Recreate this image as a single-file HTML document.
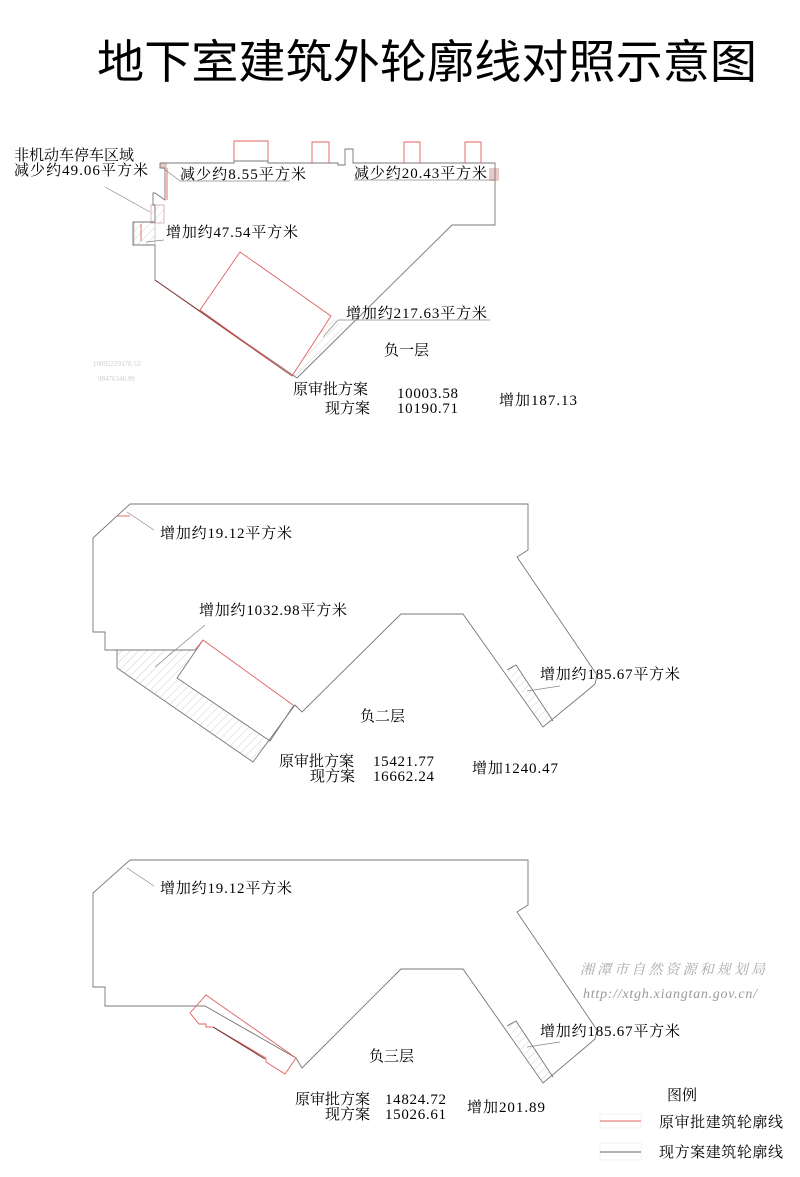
<!DOCTYPE html>
<html><head><meta charset="utf-8"><style>
html,body{margin:0;padding:0;background:#fff;}
svg{display:block;}
text{font-family:"Liberation Serif","Noto Serif CJK SC",serif;font-size:15px;fill:#000;}
.t{font-family:"Liberation Sans","Noto Sans CJK SC",sans-serif;font-size:46px;}
.g{fill:none;stroke:#777;stroke-width:0.9;}
.r{fill:none;stroke:#e06060;stroke-width:0.9;}
.l{fill:none;stroke:#888;stroke-width:0.7;}
</style></head><body>
<svg width="800" height="1177" viewBox="0 0 800 1177" xmlns="http://www.w3.org/2000/svg">
<defs>
<pattern id="h" width="6" height="6" patternUnits="userSpaceOnUse" patternTransform="rotate(45)">
<line x1="0" y1="0" x2="0" y2="6" stroke="#bbb" stroke-width="0.7"/></pattern>
</defs>
<text class="t" x="97" y="78" textLength="660" lengthAdjust="spacingAndGlyphs">地下室建筑外轮廓线对照示意图</text>

<!-- B1 -->
<polygon points="292,376 331,317 346,330 297,378" fill="url(#h)"/>
<rect x="151" y="205" width="13" height="18" fill="url(#h)" stroke="#c88" stroke-width="0.6"/>
<rect x="134" y="222" width="21" height="23" fill="url(#h)" stroke="#aaa" stroke-width="0.6"/>
<rect x="160" y="163" width="7" height="5" fill="#e9c8c8"/>
<rect x="489" y="168" width="10" height="13" fill="#e9c8c8"/>
<polyline class="g" points="160,163 234,163 234,161 268,161 268,163 312,163 329,163 338,163 338,165 345,165 345,149 353,149 353,163 404,163 420,163 465,163 481,163 495,163 495,225 452,225 297,378"/>
<polyline class="r" points="234,161 234,141 268,141 268,161"/>
<polyline class="r" points="312,163 312,142 329,142 329,163"/>
<polyline class="r" points="404,163 404,142 420,142 420,163"/>
<polyline class="r" points="465,163 465,142 481,142 481,163"/>
<polyline class="g" points="297,378 155,280 155,245 133,245 133,222 155,222 155,205 153,205 153,193 155,193 165,200 165,168 160,168 160,163"/>
<line x1="155" y1="280" x2="292" y2="376" stroke="#8a3a3a" stroke-width="1"/>
<polygon class="r" points="240,252 331,316 292,376 200,310"/>
<line class="r" x1="167" y1="168" x2="167" y2="200"/>
<line class="r" x1="141" y1="224" x2="141" y2="241"/>
<line class="l" x1="105" y1="187" x2="150" y2="212"/>
<line class="l" x1="163" y1="168" x2="180" y2="181"/>
<line class="l" x1="180" y1="181" x2="290" y2="181"/>
<line class="l" x1="354" y1="180" x2="495" y2="180"/>
<line class="l" x1="146" y1="242" x2="164" y2="240"/>
<line class="l" x1="338" y1="320" x2="490" y2="320"/>
<line class="l" x1="323" y1="337" x2="338" y2="320"/>
<text x="14" y="160" textLength="120">非机动车停车区域</text>
<text x="14" y="175" textLength="134">减少约49.06平方米</text>
<text x="180" y="179" textLength="126">减少约8.55平方米</text>
<text x="354" y="178" textLength="133">减少约20.43平方米</text>
<text x="166" y="237" textLength="132">增加约47.54平方米</text>
<text x="346" y="318" textLength="141">增加约217.63平方米</text>
<text x="384" y="355">负一层</text>
<text x="293" y="394">原审批方案</text>
<text x="397" y="398" textLength="61">10003.58</text>
<text x="325" y="413">现方案</text>
<text x="397" y="413" textLength="61">10190.71</text>
<text x="499" y="405" textLength="78">增加187.13</text>
<text x="93" y="366" style="font-size:7px;fill:#ccc">10092229378.53</text>
<text x="98" y="381" style="font-size:7px;fill:#ccc">98476346.99</text>

<!-- B2 -->
<polygon points="117,650 195,650 177,678 270,742 253,762 117,668" fill="url(#h)"/>
<polygon points="507,670 516,665 553,721 543,727" fill="url(#h)"/>
<polyline class="g" points="130,504 528,504 528,550 517,557 597,675 595,684 588,690 543,727 463,614 401,614 302,712 295,705 253,762 117,668 117,650 105,650 105,632 93,632 93,538 130,504"/>
<polyline class="g" points="117,650 195,650"/>
<polyline class="g" points="203,640 177,678 270,741 294,705"/>
<polyline class="g" points="507,670 516,665 553,721"/>
<polyline class="r" points="195,650 203,640 293,705"/>
<line class="r" x1="117" y1="516" x2="130" y2="516"/>
<line class="l" x1="127" y1="512" x2="154" y2="530"/>
<line class="l" x1="155" y1="667" x2="205" y2="625"/>
<line class="l" x1="527" y1="691" x2="560" y2="686"/>
<text x="160" y="538" textLength="132">增加约19.12平方米</text>
<text x="199" y="615" textLength="148">增加约1032.98平方米</text>
<text x="540" y="679" textLength="140">增加约185.67平方米</text>
<text x="360" y="721">负二层</text>
<text x="279" y="766">原审批方案</text>
<text x="373" y="766" textLength="61">15421.77</text>
<text x="310" y="781">现方案</text>
<text x="373" y="781" textLength="61">16662.24</text>
<text x="472" y="773" textLength="86">增加1240.47</text>

<!-- B3 -->
<polygon points="507,1026 516,1021 553,1077 543,1083" fill="url(#h)"/>
<polyline class="g" points="130,860 528,860 528,905 517,912 597,1030 595,1039 588,1045 543,1083 463,969 401,969 302,1068 296,1058 205,1006 105,1006 105,987 93,987 93,893 130,860"/>
<polyline class="g" points="507,1026 516,1021 553,1077"/>
<polygon class="r" points="206,995 296,1058 285,1074 266,1062 266,1058 213,1027 206,1027 206,1024 199,1024 190,1013"/>
<line x1="213" y1="1027" x2="265" y2="1059" stroke="#6a2a2a" stroke-width="1"/>
<line class="l" x1="127" y1="868" x2="154" y2="886"/>
<line class="l" x1="527" y1="1047" x2="560" y2="1042"/>
<text x="160" y="893" textLength="132">增加约19.12平方米</text>
<text x="540" y="1036" textLength="140">增加约185.67平方米</text>
<text x="369" y="1061">负三层</text>
<text x="295" y="1104">原审批方案</text>
<text x="385" y="1104" textLength="61">14824.72</text>
<text x="325" y="1119">现方案</text>
<text x="385" y="1119" textLength="61">15026.61</text>
<text x="467" y="1112" textLength="78">增加201.89</text>

<text x="580" y="974" textLength="185" style="font-size:14px;fill:#aaa;font-style:italic">湘潭市自然资源和规划局</text>
<text x="583" y="998" textLength="174" style="font-size:14px;fill:#999;font-style:italic">http://xtgh.xiangtan.gov.cn/</text>

<!-- legend -->
<text x="667" y="1100">图例</text>
<rect x="600" y="1114" width="41" height="14" fill="none" stroke="#eee" stroke-width="0.8"/>
<line x1="600" y1="1121" x2="641" y2="1121" stroke="#e06060" stroke-width="1"/>
<text x="659" y="1127" textLength="124">原审批建筑轮廓线</text>
<rect x="600" y="1143" width="41" height="17" fill="none" stroke="#eee" stroke-width="0.8"/>
<line x1="600" y1="1152" x2="641" y2="1152" stroke="#666" stroke-width="1"/>
<text x="659" y="1157" textLength="124">现方案建筑轮廓线</text>
</svg>
</body></html>
